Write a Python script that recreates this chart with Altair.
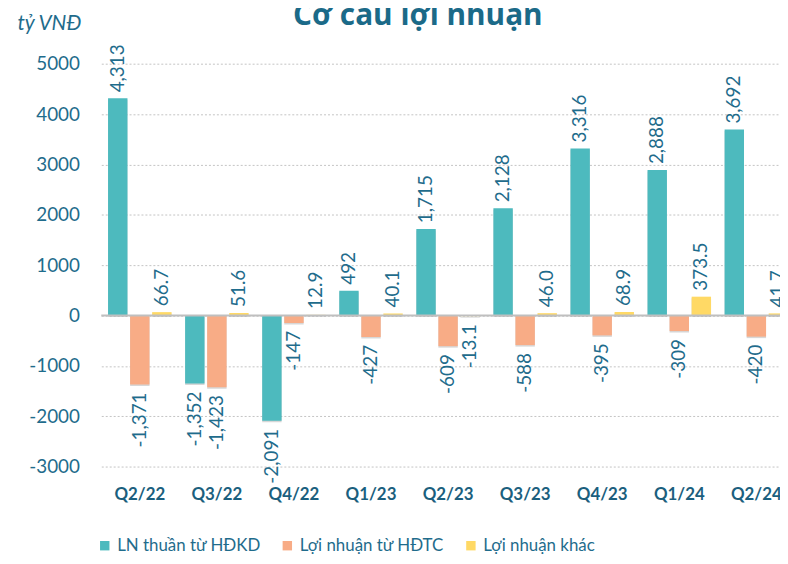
import altair as alt
import pandas as pd

quarters = ["Q2/22", "Q3/22", "Q4/22", "Q1/23", "Q2/23", "Q3/23", "Q4/23", "Q1/24", "Q2/24"]
series_names = ["LN thuần từ HĐKD", "Lợi nhuận từ HĐTC", "Lợi nhuận khác"]
ln_hdkd = [4313, -1352, -2091, 492, 1715, 2128, 3316, 2888, 3692]
ln_hdtc = [-1371, -1423, -147, -427, -609, -588, -395, -309, -420]
ln_khac = [66.7, 51.6, 12.9, 40.1, -13.1, 46.0, 68.9, 373.5, 41.7]
y_ticks = [-3000, -2000, -1000, 0, 1000, 2000, 3000, 4000, 5000]
colors = ["#4DBABE", "#F8AC86", "#FFD965"]

TEXT = "#1F6C8C"
FONT = "Lato"

rows = []
for i, q in enumerate(quarters):
    for s, vals, fmt in [
        (series_names[0], ln_hdkd, "{:,.0f}"),
        (series_names[1], ln_hdtc, "{:,.0f}"),
        (series_names[2], ln_khac, "{:.1f}"),
    ]:
        v = vals[i]
        rows.append({"q": q, "s": s, "v": v, "label": fmt.format(v)})
df = pd.DataFrame(rows)

x_enc = alt.X(
    "q:N",
    sort=quarters,
    scale=alt.Scale(range=[0, 699], paddingInner=0.176, paddingOuter=0.088),
    axis=alt.Axis(
        title=None, labelAngle=0, labelFontSize=17, labelFontWeight="bold",
        labelColor="#1B5F7E", labelFont=FONT, ticks=False, domain=False,
        labelPadding=20, grid=False,
    ),
)
xo_enc = alt.XOffset("s:N", sort=series_names, scale=alt.Scale(paddingInner=0.12, paddingOuter=0))
y_enc = alt.Y(
    "v:Q",
    scale=alt.Scale(domain=[-3000, 5000], nice=False),
    axis=alt.Axis(
        title="tỷ VNĐ", titleAngle=0, titleX=-85, titleY=-40, titleAlign="left",
        titleBaseline="middle", titleFontStyle="italic", titleFontWeight="normal",
        titleFontSize=21, titleColor=TEXT, titleFont=FONT,
        values=y_ticks, labelExpr="'' + datum.value", labelFontSize=19,
        labelColor=TEXT, labelFont=FONT,
        labelPadding=22, ticks=False, domain=False,
        gridColor="#C4C4C4", gridDash=[2, 2], gridWidth=1,
    ),
)

base = alt.Chart(df)

shadow = base.mark_bar(color="#8c8c8c", opacity=0.35, xOffset=2, yOffset=1.5).encode(
    x=x_enc, xOffset=xo_enc, y=y_enc
)

bars = base.mark_bar().encode(
    x=x_enc,
    xOffset=xo_enc,
    y=y_enc,
    color=alt.Color(
        "s:N", sort=series_names,
        scale=alt.Scale(domain=series_names, range=colors),
        legend=alt.Legend(
            title=None, orient="none", legendX=-5, legendY=477, direction="horizontal",
            symbolType="square", symbolSize=90, symbolStrokeWidth=0,
            labelFontSize=17, labelColor=TEXT, labelFont=FONT, columnPadding=18,
            labelOffset=4,
        ),
    ),
)

zero = alt.Chart(pd.DataFrame({"z": [0]})).mark_rule(color="#BFBFBF", strokeWidth=2).encode(
    y=alt.Y("z:Q")
)

pos_text = base.transform_filter("datum.v >= 0").mark_text(
    angle=270, align="left", baseline="middle", dx=6, fontSize=19, color=TEXT, font=FONT
).encode(x=x_enc, xOffset=xo_enc, y=y_enc, text="label:N")

neg_text = base.transform_filter("datum.v < 0").mark_text(
    angle=270, align="right", baseline="middle", dx=-8, fontSize=19, color=TEXT, font=FONT
).encode(x=x_enc, xOffset=xo_enc, y=y_enc, text="label:N")

chart = alt.layer(shadow, bars, zero, pos_text, neg_text).properties(
    width=684,
    height=406,
    autosize="none",
    padding={"left": 94, "top": 54, "right": 0, "bottom": 88},
    title=alt.TitleParams(
        "Cơ cấu lợi nhuận", fontSize=30, fontWeight="bold", color="#1B6A88",
        font="Open Sans", anchor="middle", dx=-23, offset=-18,
    ),
).configure_view(stroke=None)

chart.save("out.html", embed_options={"renderer": "svg", "actions": False})
